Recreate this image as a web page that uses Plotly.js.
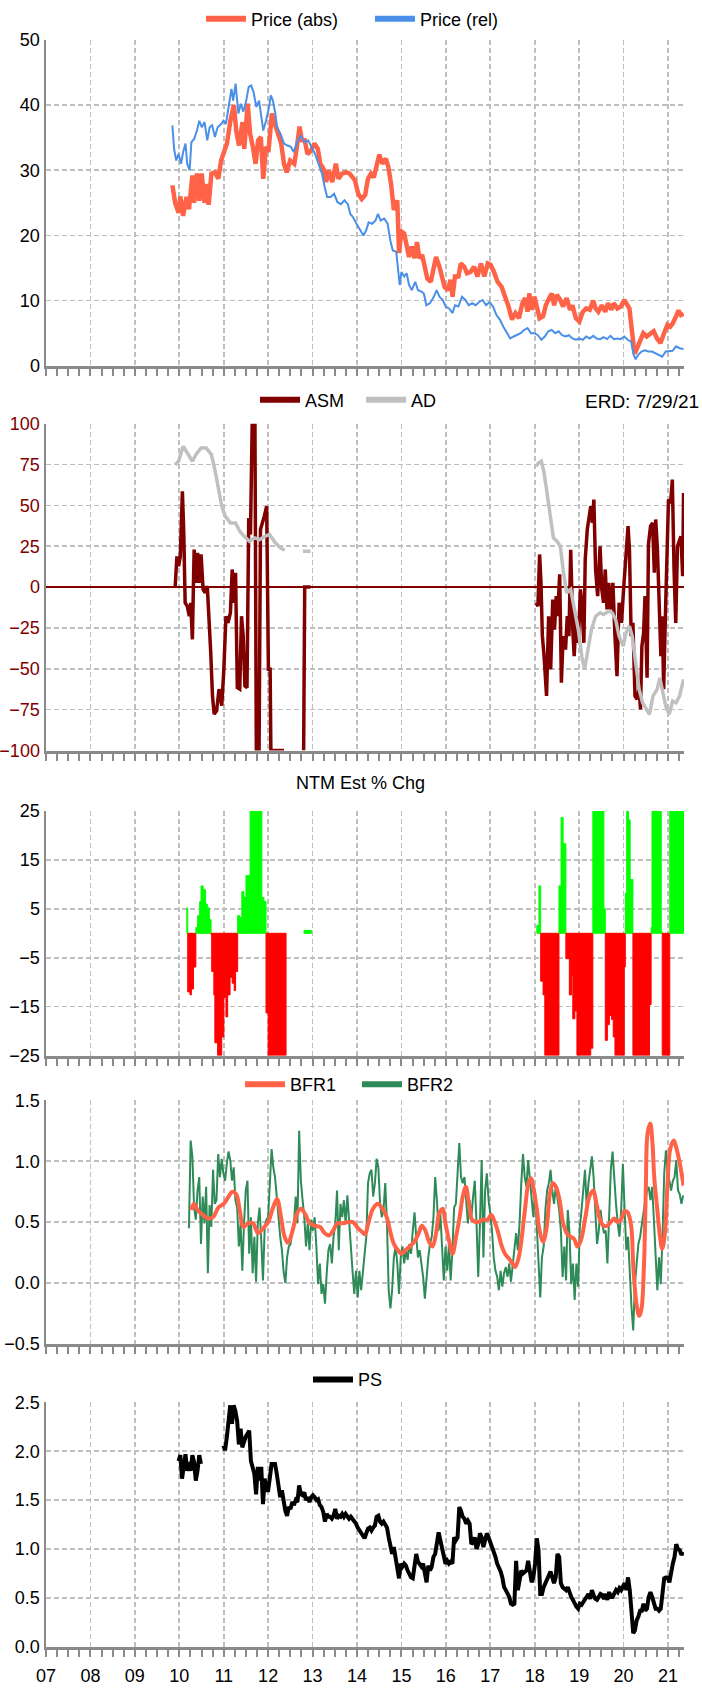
<!DOCTYPE html>
<html><head><meta charset="utf-8">
<script src="https://cdn.plot.ly/plotly-3.0.1.min.js"></script>
<style>html,body{margin:0;padding:0;background:#fff}</style>
</head><body><div id="chart" style="width:702px;height:1691px"></div>
<script>
// ---------- axis / tick labels ----------
const yearTicks = [2007,2008,2009,2010,2011,2012,2013,2014,2015,2016,2017,2018,2019,2020,2021];
const yearLabels = ['07','08','09','10','11','12','13','14','15','16','17','18','19','20','21'];

// ---------- Panel 1: price (times in decimal years) ----------
const priceAbsT = [2009.845,2009.907,2009.984,2010.023,2010.086,2010.163,2010.218,2010.295,2010.334,2010.397,2010.451,2010.505,2010.568,2010.630,2010.661,2010.723,2010.801,2010.879,2010.941,2010.995,2011.073,2011.151,2011.229,2011.283,2011.345,2011.423,2011.462,2011.540,2011.594,2011.656,2011.718,2011.773,2011.835,2011.890,2011.952,2012.006,2012.084,2012.162,2012.240,2012.294,2012.356,2012.418,2012.496,2012.589,2012.652,2012.706,2012.761,2012.823,2012.885,2012.963,2013.040,2013.118,2013.173,2013.250,2013.305,2013.367,2013.445,2013.523,2013.585,2013.663,2013.756,2013.834,2013.950,2014.028,2014.106,2014.184,2014.246,2014.316,2014.378,2014.440,2014.502,2014.572,2014.650,2014.705,2014.767,2014.829,2014.907,2014.946,2015.000,2015.062,2015.117,2015.171,2015.233,2015.296,2015.350,2015.404,2015.467,2015.529,2015.583,2015.661,2015.715,2015.778,2015.855,2015.918,2015.972,2016.050,2016.104,2016.151,2016.205,2016.283,2016.337,2016.415,2016.477,2016.555,2016.633,2016.711,2016.789,2016.866,2016.944,2017.006,2017.084,2017.162,2017.255,2017.333,2017.411,2017.488,2017.566,2017.644,2017.722,2017.784,2017.838,2017.877,2017.939,2017.994,2018.056,2018.110,2018.188,2018.250,2018.328,2018.383,2018.437,2018.499,2018.577,2018.639,2018.717,2018.795,2018.849,2018.927,2019.005,2019.083,2019.160,2019.238,2019.316,2019.370,2019.432,2019.510,2019.588,2019.650,2019.728,2019.782,2019.860,2019.938,2020.016,2020.070,2020.132,2020.194,2020.249,2020.303,2020.365,2020.443,2020.521,2020.599,2020.677,2020.754,2020.832,2020.910,2020.988,2021.050,2021.104,2021.182,2021.237,2021.291,2021.35];
const priceAbs = [27.7,25.0,23.5,26,23,25.9,24,29.2,25,29.5,25.3,29.5,25,27.9,24.7,29.5,29.7,28.7,31.5,32.8,34.1,37.6,40,36,33.8,37.4,33.3,40.2,35.6,33.6,31,34.6,35.1,28.7,33.6,32.8,38.7,36.9,35.1,34.1,31,29.7,31.5,31,33.8,36.7,34.6,34.6,32.5,33,34.1,33.3,31,30.2,28.2,30,28.2,31,28.7,29.5,29.7,29.5,28.5,26.4,25.6,26.2,28.7,29.5,28.9,30.5,32.4,31,31.8,30.5,27.9,23.9,25.4,17.3,20.6,20.3,18.8,16.7,18.3,16.5,19,16.5,17,14.7,13.4,12.9,14.7,16.7,15.2,13.7,12.1,11.6,13.2,10.6,13.7,13.7,15.7,15.2,14.2,14.4,15.2,13.7,15.7,13.7,15.7,15.5,14.4,12.9,12.1,10.6,9.1,7.1,8.1,7.3,9.6,10.4,8.3,11.1,8.6,10.6,8.8,7.3,7.6,9.3,10.4,11.1,9.3,10.9,10.1,9.1,10.4,8.6,9.3,7.3,6.8,8.3,8.8,8.6,10,8.8,8.3,9.3,8.3,9.6,8.6,9.6,8.8,9.1,10.1,9.6,8.8,5,1.9,2.7,3.7,5,4.5,5,5.3,4.2,3.5,5,6.3,6,6.5,7.6,8.5,7.8,8];
const priceRelT = [2009.845,2009.883,2009.930,2009.984,2010.039,2010.086,2010.140,2010.179,2010.233,2010.272,2010.334,2010.397,2010.451,2010.505,2010.568,2010.630,2010.684,2010.739,2010.801,2010.863,2010.941,2010.995,2011.050,2011.112,2011.174,2011.213,2011.267,2011.330,2011.384,2011.439,2011.501,2011.563,2011.617,2011.672,2011.734,2011.796,2011.851,2011.890,2011.952,2012.006,2012.061,2012.107,2012.162,2012.201,2012.278,2012.356,2012.434,2012.512,2012.574,2012.652,2012.729,2012.823,2012.900,2012.978,2013.056,2013.134,2013.212,2013.274,2013.328,2013.406,2013.484,2013.561,2013.639,2013.717,2013.795,2013.849,2013.911,2013.989,2014.067,2014.145,2014.207,2014.261,2014.339,2014.417,2014.471,2014.533,2014.611,2014.689,2014.751,2014.806,2014.883,2014.922,2014.961,2015.000,2015.062,2015.117,2015.171,2015.233,2015.311,2015.373,2015.451,2015.505,2015.560,2015.638,2015.715,2015.793,2015.855,2015.933,2015.995,2016.073,2016.151,2016.205,2016.283,2016.361,2016.439,2016.516,2016.594,2016.672,2016.750,2016.827,2016.905,2016.983,2017.061,2017.138,2017.216,2017.294,2017.372,2017.449,2017.527,2017.605,2017.683,2017.760,2017.838,2017.916,2017.994,2018.072,2018.149,2018.227,2018.305,2018.383,2018.460,2018.538,2018.616,2018.694,2018.771,2018.849,2018.927,2019.005,2019.083,2019.160,2019.238,2019.316,2019.394,2019.471,2019.549,2019.627,2019.705,2019.782,2019.860,2019.938,2020.016,2020.093,2020.171,2020.226,2020.272,2020.327,2020.404,2020.482,2020.560,2020.638,2020.715,2020.793,2020.871,2020.949,2021.027,2021.104,2021.182,2021.260,2021.35];
const priceRel = [36.9,33.3,31.5,32.5,31,32.8,34.1,31,30,34.3,34.8,36.1,37.6,36.6,37.4,34.6,36.6,36.9,35.1,36.6,37.1,37.6,37.1,39.7,42.5,40.7,43.3,38.7,40.2,39,40.5,42.8,43.0,42,39.7,40.7,37.9,36.1,37.6,39.2,41.5,40.7,38.7,36.6,35.6,34.1,33.8,33.6,32.8,34.3,35.3,34.3,34.6,33.6,32.5,31,29.5,27.4,25.9,25.9,26.4,25.1,24.8,25.4,24.8,23.3,22.8,21.8,20.8,20,20.8,22,21.8,22.3,23.3,22.3,22.6,21.8,19.2,17.7,17.5,14.7,12.4,14.4,13.7,14.2,12.4,11.6,12.9,11.6,11.4,11.1,9.3,9.6,10.4,11.6,10.6,10.1,9.1,8.8,8.1,9.3,9.1,10.6,10.1,9.3,9.6,9.3,9.8,10.1,9.3,9.8,9.1,7.8,7.1,6.0,5,4.2,4.5,4.7,5,5.5,5.8,5,5,4.7,4.0,4.5,5.3,5.5,5,5.3,4.7,4.5,4.7,4.2,4.0,4.2,4.0,4.5,4.2,4.6,4.2,4.1,4.4,4.1,4.6,4.1,4.2,4.1,4.5,4.0,3.7,1.7,1.0,1.7,2.2,2.4,2.2,2.2,1.9,1.7,1.4,2.2,2.3,2.3,3,2.7,2.6];

// ---------- Panel 2: ASM / AD ----------
const asmT = [2009.907,2009.946,2009.984,2010.023,2010.070,2010.101,2010.132,2010.179,2010.226,2010.257,2010.295,2010.334,2010.381,2010.412,2010.458,2010.490,2010.536,2010.583,2010.630,2010.669,2010.708,2010.747,2010.785,2010.840,2010.894,2010.956,2011.003,2011.050,2011.096,2011.151,2011.190,2011.229,2011.267,2011.306,2011.361,2011.400,2011.439,2011.477,2011.524,2011.563,2011.602,2011.641,2011.703,2011.734,2011.796,2011.827,2011.874,2011.913,2011.967,2012.006,2012.045,2012.061,2012.356,2012.58,2012.799,2012.823,2012.955,
  2015.5,
  2018.033,2018.072,2018.110,2018.141,2018.172,2018.211,2018.266,2018.313,2018.359,2018.406,2018.445,2018.484,2018.515,2018.562,2018.600,2018.639,2018.694,2018.733,2018.771,2018.810,2018.857,2018.888,2018.934,2018.981,2019.028,2019.059,2019.106,2019.137,2019.183,2019.214,2019.261,2019.300,2019.331,2019.370,2019.417,2019.471,2019.510,2019.549,2019.588,2019.627,2019.666,2019.705,2019.759,2019.806,2019.852,2019.899,2019.953,2020.000,2020.054,2020.101,2020.132,2020.171,2020.210,2020.257,2020.303,2020.350,2020.381,2020.412,2020.451,2020.482,2020.529,2020.560,2020.607,2020.653,2020.692,2020.723,2020.762,2020.801,2020.840,2020.871,2020.902,2020.941,2020.980,2021.011,2021.058,2021.097,2021.136,2021.174,2021.213,2021.252,2021.291,2021.330,2021.35];
const asm = [0,18.9,12.8,18.9,58.6,33.2,-9.6,-11.6,-17.8,-9.6,-32,23,2.6,21,2.6,20,-1.4,-3.5,0.6,-15.7,-40.1,-66.5,-77.7,-75.7,-62.4,-72.6,-50.3,-17.8,-21.9,-15.7,10.8,-9.6,8.8,-61.5,-62.4,-17.8,-30,-60.4,-61.5,42.3,32.2,100,100,-100,-100,35.2,39.3,43.4,49.5,-50.3,-50.3,-100,-100,null,-100,0,0,
  null,
  -9.6,-11.6,20,2.6,-30,-42.3,-66.6,-17.8,-50.3,-7.6,-26,-5.5,-17.8,7.8,-58.5,-30,-38.2,-17.8,-30,22.9,-26,-42.3,-17.8,-34.1,-1.4,-9.6,-34.1,16.9,35.3,40.3,49.5,39.3,53.6,10.8,-5.5,25,-1.4,-9.6,10.8,-13.7,2.6,-13.7,2.6,-30,-54.5,-9.6,-21.9,-1.4,23,37.3,23,-30,-21.9,-66.6,-68.6,-62.4,-74.8,-36.1,-28,-5.5,-55.5,26.1,37.3,39.3,8.8,41.4,23,-9.6,-42.3,-17.8,-62.4,-17.8,18.9,53.6,51.5,65.8,10.8,-21.9,25,29.1,31.1,6.7,57.6];
const adT = [2009.907,2009.984,2010.086,2010.179,2010.295,2010.373,2010.490,2010.607,2010.723,2010.801,2010.879,2010.956,2011.034,2011.151,2011.267,2011.361,2011.462,2011.579,2011.695,2011.812,2011.928,2012.030,2012.162,2012.278,2012.372,2012.58,2012.784,2012.955,
  2015.5,
  2018.033,2018.087,2018.149,2018.204,2018.266,2018.344,2018.421,2018.499,2018.577,2018.639,2018.717,2018.810,2018.888,2018.981,2019.059,2019.121,2019.199,2019.277,2019.370,2019.471,2019.549,2019.666,2019.744,2019.821,2019.899,2019.992,2020.054,2020.132,2020.194,2020.272,2020.350,2020.428,2020.505,2020.583,2020.661,2020.754,2020.816,2020.894,2020.949,2021.027,2021.104,2021.182,2021.260,2021.35];
const ad = [74.9,77,86.2,82.1,77,81.1,85.2,85.2,81.1,71.9,61.7,49.5,43.4,39.3,39.3,34.2,31.1,28.1,30.1,29.1,31.1,32.2,27.1,24,22.6,null,22,22,
  null,
  73.9,76,77,70.9,59.7,43.4,30.1,28.1,25,10.8,-3.5,-1.4,-13.7,-26,-42.3,-50.4,-38.2,-26,-17.8,-15.7,-16.8,-14.7,-15.7,-19.8,-30,-36.1,-28,-23.9,-30,-48.3,-62.6,-70.8,-74.8,-77.9,-66.7,-62.6,-55.5,-64.7,-72.9,-77.9,-69.7,-70.8,-66.7,-56.5];

// ---------- Panel 3: NTM Est % Chg (each value holds until the next date; null ends a run) ----------
const ntmT = [2010.17,2010.19,2010.241,2010.272,2010.319,2010.373,2010.412,2010.459,2010.490,2010.537,2010.591,2010.630,2010.677,2010.715,2010.730,2010.778,2010.801,2010.863,2010.956,2011.003,2011.050,2011.089,2011.143,2011.190,2011.236,2011.267,2011.314,2011.361,2011.407,2011.454,2011.501,2011.594,2011.858,2011.905,2011.952,2012.000,2012.403,2012.807,2012.978,
  2018.048,2018.095,2018.134,2018.188,2018.227,2018.546,2018.593,2018.639,2018.701,2018.779,2018.826,2018.857,2018.904,2018.950,2019.261,2019.308,2019.557,2019.588,2019.635,2019.681,2019.728,2019.767,2019.806,2020.016,2020.039,2020.070,2020.109,2020.148,2020.210,2020.583,2020.620,2020.640,2020.848,2020.870,2021.040,2021.36];
const ntm = [5.2,-12,-12.6,-11.4,-6.9,1.2,3.6,6.5,9.7,8.9,6,5.2,2.8,-0.3,-7.8,-12.6,-22.4,-25,-21.2,-13.1,-17.1,-12.6,-9,-10.2,-11.7,-7.8,3.6,3.2,8.5,7.3,11.8,25,7.3,6.5,-16.3,-25,null,0.6,null,
  1.6,9.7,-9.8,-12.6,-25,9.7,23.7,18.3,-5.2,-12.6,-8.6,-17.5,-15.9,-25,-23.5,25,5,-21.9,-18.7,-16.8,-17.6,-21.2,-25,-6.9,8.2,25,23.2,11,-25,-14.6,1.2,25,0.3,-25,25,null];

// ---------- Panel 4: BFR1 / BFR2 ----------
const bfr1T = [2010.27,2010.33,2010.41,2010.53,2010.65,2010.76,2010.88,2011.0,2011.11,2011.19,2011.28,2011.36,2011.44,2011.54,2011.66,2011.77,2011.89,2012.0,2012.11,2012.20,2012.29,2012.37,2012.45,2012.55,2012.65,2012.74,2012.84,2012.94,2013.06,2013.17,2013.27,2013.37,2013.46,2013.56,2013.68,2013.79,2013.91,2014.0,2014.11,2014.18,2014.26,2014.36,2014.47,2014.57,2014.67,2014.75,2014.83,2014.92,2015.0,2015.09,2015.19,2015.29,2015.39,2015.46,2015.54,2015.62,2015.70,2015.78,2015.85,2015.93,2015.99,2016.07,2016.15,2016.23,2016.31,2016.38,2016.45,2016.52,2016.59,2016.71,2016.83,2016.94,2017.02,2017.10,2017.18,2017.25,2017.33,2017.42,2017.50,2017.56,2017.64,2017.70,2017.78,2017.86,2017.92,2017.98,2018.05,2018.11,2018.19,2018.27,2018.34,2018.41,2018.48,2018.56,2018.64,2018.72,2018.81,2018.89,2018.96,2019.04,2019.14,2019.23,2019.32,2019.39,2019.47,2019.55,2019.63,2019.71,2019.79,2019.86,2019.94,2020.02,2020.09,2020.17,2020.22,2020.29,2020.35,2020.40,2020.46,2020.50,2020.54,2020.60,2020.65,2020.69,2020.76,2020.82,2020.87,2020.93,2020.99,2021.05,2021.13,2021.18,2021.25,2021.32,2021.35];
const bfr1 = [0.60,0.65,0.60,0.56,0.53,0.54,0.62,0.65,0.71,0.75,0.73,0.60,0.46,0.49,0.49,0.41,0.45,0.50,0.62,0.69,0.54,0.38,0.33,0.43,0.57,0.61,0.56,0.49,0.47,0.46,0.41,0.39,0.43,0.49,0.49,0.50,0.50,0.46,0.42,0.40,0.50,0.61,0.65,0.61,0.54,0.42,0.32,0.27,0.24,0.27,0.30,0.34,0.41,0.47,0.43,0.34,0.30,0.41,0.57,0.61,0.49,0.35,0.24,0.38,0.54,0.71,0.79,0.65,0.52,0.50,0.52,0.52,0.56,0.50,0.41,0.31,0.24,0.20,0.16,0.13,0.21,0.35,0.60,0.82,0.86,0.76,0.60,0.43,0.34,0.46,0.73,0.82,0.79,0.68,0.49,0.41,0.38,0.36,0.30,0.35,0.54,0.71,0.76,0.65,0.52,0.47,0.47,0.50,0.53,0.50,0.52,0.59,0.58,0.47,0.13,-0.17,-0.27,-0.22,0.16,0.76,1.23,1.31,1.15,0.87,0.60,0.38,0.28,0.41,0.82,1.10,1.17,1.12,1.01,0.87,0.80];
// BFR2 sampled every ~2 weeks starting at bfr2Start (decimal year)
const bfr2Start = 2010.217, bfr2Step = 0.03876;
const bfr2 = [0.45,1.17,1.04,0.62,0.52,0.76,0.87,0.32,0.71,0.49,0.79,0.08,0.64,0.46,0.93,0.65,0.68,1.06,0.87,1.02,
  0.90,0.84,0.98,1.08,1.01,0.84,0.95,0.68,0.62,0.30,0.49,0.10,0.49,0.76,0.84,0.24,0.54,0.08,0.38,0.01,
  0.49,0.62,0.35,0.02,0.46,0.52,0.54,0.79,1.10,0.95,0.87,0.71,0.52,0.38,0.27,0.09,0.0,0.21,0.30,0.32,
  0.43,0.49,0.71,0.49,1.25,0.84,0.68,0.54,0.30,0.49,0.27,0.52,0.43,0.54,0.30,-0.01,0.16,-0.09,-0.01,-0.17,
  0.08,0.27,0.32,0.16,0.38,0.49,0.76,0.27,0.65,0.54,0.68,0.49,0.72,0.49,0.32,0.10,-0.09,0.10,-0.12,0.10,
  -0.06,0.10,0.27,0.38,0.82,0.90,0.93,0.71,0.82,1.02,0.95,0.65,0.54,0.60,0.82,0.49,-0.06,-0.21,-0.06,0.21,
  0.30,0.16,-0.09,0.21,0.30,0.16,0.27,0.19,0.32,0.24,0.43,0.58,0.38,0.21,0.27,0.16,0.05,-0.13,0.05,0.21,
  0.32,0.38,0.54,0.87,0.68,0.43,0.57,0.27,0.02,0.30,0.10,0.32,0.02,0.27,0.62,0.65,0.90,1.15,0.87,0.82,
  0.87,0.65,0.49,0.68,0.54,0.71,0.84,0.49,0.05,0.49,1.01,0.21,0.76,0.90,0.68,0.57,0.43,0.21,0.10,0.05,
  -0.06,0.10,-0.03,0.08,0.13,0.05,0.16,0.01,0.13,0.30,0.41,0.27,0.49,0.82,1.06,0.87,0.79,1.01,0.87,0.68,
  0.54,0.76,0.43,0.16,-0.12,0.21,0.30,0.60,0.76,0.82,0.93,0.76,0.65,0.79,0.68,0.60,0.43,0.05,0.30,0.02,
  0.60,0.41,-0.01,0.16,-0.14,0.16,-0.03,0.46,0.60,0.76,0.93,0.62,0.82,0.93,1.04,0.87,0.54,0.32,0.43,0.60,
  0.49,0.41,0.43,0.16,0.54,0.93,1.08,0.84,0.65,0.49,0.38,0.60,0.98,0.60,0.27,0.38,0.05,-0.20,-0.39,-0.01,
  0.16,0.32,0.38,0.49,0.60,0.68,0.76,0.79,0.68,0.79,0.52,0.27,-0.06,0.21,-0.01,0.38,0.90,1.09,0.90,0.84,
  0.76,0.84,0.87,1.01,0.76,0.73,0.65,0.72];

// ---------- Panel 5: PS (two runs, sampled every ~2 weeks) ----------
const psStep = 0.03876;
const ps1Start = 2009.984;
const ps1 = [1.90,1.96,1.72,1.85,1.97,1.80,1.89,1.80,1.96,1.89,1.70,1.80,1.96,1.87];
const ps2Start = 2010.992;
const ps2 = [2.06,2.01,2.14,2.33,2.47,2.28,2.47,2.41,2.31,2.07,2.23,2.04,2.11,2.15,2.18,2.21,1.90,1.82,1.77,1.56,
  1.84,1.70,1.84,1.46,1.72,1.60,1.60,1.73,1.87,1.87,1.87,1.77,1.63,1.53,1.60,1.46,1.39,1.34,1.43,1.41,
  1.48,1.45,1.50,1.48,1.65,1.56,1.55,1.58,1.50,1.53,1.48,1.53,1.55,1.53,1.50,1.51,1.45,1.43,1.38,1.28,
  1.36,1.33,1.33,1.31,1.34,1.41,1.31,1.34,1.33,1.36,1.33,1.36,1.34,1.31,1.33,1.31,1.28,1.26,1.22,1.19,
  1.16,1.12,1.11,1.16,1.21,1.22,1.19,1.22,1.24,1.33,1.34,1.28,1.26,1.28,1.24,1.22,1.12,1.02,0.95,1.02,
  0.92,0.82,0.70,0.85,0.82,0.85,0.83,0.78,0.73,0.71,0.70,0.82,0.95,0.87,0.85,0.82,0.85,0.75,0.66,0.83,
  0.78,0.82,0.92,0.95,1.05,1.17,1.09,1.02,0.94,0.85,0.88,0.85,0.87,0.85,1.12,1.09,1.12,1.43,1.39,1.33,
  1.31,1.26,1.29,1.26,1.05,1.07,1.12,1.00,1.05,1.16,1.12,1.02,1.09,1.16,1.12,1.07,1.02,0.99,0.92,0.85,
  0.82,0.77,0.71,0.61,0.58,0.54,0.51,0.44,0.43,0.44,0.88,0.58,0.68,0.78,0.75,0.77,0.78,0.88,0.78,0.66,
  0.71,0.85,1.11,0.99,0.54,0.54,0.61,0.65,0.71,0.75,0.77,0.71,0.65,0.71,0.95,0.92,0.65,0.61,0.60,0.58,
  0.61,0.54,0.51,0.48,0.44,0.41,0.39,0.44,0.43,0.46,0.49,0.51,0.54,0.49,0.58,0.53,0.49,0.48,0.51,0.54,
  0.53,0.49,0.54,0.48,0.56,0.51,0.51,0.54,0.58,0.56,0.60,0.58,0.61,0.65,0.58,0.71,0.58,0.31,0.14,0.17,
  0.27,0.31,0.37,0.37,0.44,0.37,0.39,0.51,0.56,0.51,0.44,0.39,0.39,0.37,0.39,0.58,0.70,0.71,0.71,0.66,
  0.78,0.85,0.92,1.05,1.00,0.99,0.94,0.97];

// ---------- helpers ----------
function sampleTimes(start, step, n) {
  const out = [];
  for (let i = 0; i < n; i++) out.push(+(start + i * step).toFixed(4));
  return out;
}
// NTM: one bar per constant run, spanning from its date to the next date
const ntmBar = { x: [], y: [], w: [], c: [] };
for (let i = 0; i < ntm.length; i++) {
  const v = ntm[i];
  if (v === null || i + 1 >= ntmT.length) continue;
  const w = ntmT[i + 1] - ntmT[i];
  ntmBar.x.push(ntmT[i] + w / 2);
  ntmBar.w.push(w);
  ntmBar.y.push(v);
  ntmBar.c.push(v >= 0 ? '#00ff00' : '#ff0000');
}

const psT = sampleTimes(ps1Start, psStep, ps1.length).concat([2010.7], sampleTimes(ps2Start, psStep, ps2.length));
const psV = ps1.concat([null], ps2);
const bfr2T = sampleTimes(bfr2Start, bfr2Step, bfr2.length);

// ---------- styling ----------
const H = 1691;
const FONT = 'Liberation Sans, Arial, sans-serif';
const GRID = '#bfbfbf', AXIS = '#8a8a8a';
const xRange = [2007, 2021.36];
const C = { abs: '#ff6347', rel: '#4a8fe8', asm: '#800000', ad: '#c0c0c0', bfr1: '#ff6347', bfr2: '#2e8b57', ps: '#000000' };

function xAxis(anchor, labels) {
  return {
    anchor, domain: [0, 1], range: xRange, type: 'linear',
    tickmode: 'array', tickvals: yearTicks, ticktext: yearLabels, showticklabels: labels,
    ticks: 'outside', ticklen: 7, tickwidth: 2, tickcolor: AXIS, ticklabelstandoff: 4,
    minor: { tickmode: 'linear', tick0: 2007, dtick: 0.25, ticks: 'outside', ticklen: 7, tickwidth: 2, tickcolor: AXIS, showgrid: false },
    showline: true, linecolor: AXIS, linewidth: 3,
    showgrid: true, gridcolor: GRID, gridwidth: 1.6, griddash: '5px,3px',
    zeroline: false, fixedrange: true,
    tickfont: { family: FONT, size: 18, color: '#000' }
  };
}
function yAxis(anchor, top, bottom, range, tickvals, fmt, color) {
  return {
    anchor, domain: [1 - bottom / H, 1 - top / H], range, type: 'linear',
    tickmode: 'array', tickvals, tickformat: fmt, ticks: '',
    showline: true, linecolor: AXIS, linewidth: 2.5,
    showgrid: true, gridcolor: GRID, gridwidth: 1.6, griddash: '5px,3px',
    zeroline: false, fixedrange: true,
    tickfont: { family: FONT, size: 18, color: color || '#000' }
  };
}
function legendAt(xpx, ypx, entry) {
  return {
    orientation: 'h', x: (xpx - 46) / 638, y: 1 - ypx / H, xanchor: 'left', yanchor: 'middle',
    bgcolor: 'rgba(0,0,0,0)', borderwidth: 0, font: { family: FONT, size: 18, color: '#000' },
    itemwidth: 40, entrywidthmode: 'pixels', entrywidth: entry || 0,
    itemclick: false, itemdoubleclick: false
  };
}
// legend keys (no data of their own; they only carry the swatch style)
function key(name, color, legend) {
  return { x: [null], y: [null], xaxis: 'x', yaxis: 'y', name, legend, mode: 'lines', line: { color, width: 6 }, showlegend: true };
}

const traces = [
  { x: priceAbsT, y: priceAbs, xaxis: 'x', yaxis: 'y', showlegend: false, mode: 'lines', line: { color: C.abs, width: 4.5 } },
  { x: priceRelT, y: priceRel, xaxis: 'x', yaxis: 'y', showlegend: false, mode: 'lines', line: { color: C.rel, width: 2 } },

  { x: asmT, y: asm, xaxis: 'x2', yaxis: 'y2', showlegend: false, mode: 'lines', line: { color: C.asm, width: 3.5 } },
  { x: adT, y: ad, xaxis: 'x2', yaxis: 'y2', showlegend: false, mode: 'lines', line: { color: C.ad, width: 3.5 } },

  { type: 'bar', x: ntmBar.x, y: ntmBar.y, width: ntmBar.w, xaxis: 'x3', yaxis: 'y3', showlegend: false,
    marker: { color: ntmBar.c, line: { color: ntmBar.c, width: 1 } } },

  { x: bfr2T, y: bfr2, xaxis: 'x4', yaxis: 'y4', showlegend: false, mode: 'lines', line: { color: C.bfr2, width: 2 } },
  { x: bfr1T, y: bfr1, xaxis: 'x4', yaxis: 'y4', showlegend: false, mode: 'lines', line: { color: C.bfr1, width: 4, shape: 'spline', smoothing: 1 } },

  { x: psT, y: psV, xaxis: 'x5', yaxis: 'y5', showlegend: false, mode: 'lines', line: { color: C.ps, width: 4 } },

  key('Price (abs)', C.abs, 'legend'), key('Price (rel)', C.rel, 'legend'),
  key('ASM', C.asm, 'legend2'), key('AD', C.ad, 'legend2'),
  key('BFR1', C.bfr1, 'legend3'), key('BFR2', C.bfr2, 'legend3'),
  key('PS', C.ps, 'legend4')
];

const layout = {
  width: 702, height: H,
  margin: { l: 46, r: 18, t: 0, b: 0, pad: 0 },
  paper_bgcolor: '#fff', plot_bgcolor: '#fff',
  font: { family: FONT, size: 18, color: '#000' },
  showlegend: true, hovermode: false, barmode: 'overlay',
  xaxis: xAxis('y', false), xaxis2: xAxis('y2', false), xaxis3: xAxis('y3', false), xaxis4: xAxis('y4', false), xaxis5: xAxis('y5', true),
  yaxis: yAxis('x', 36, 362.7, [0, 50], [0, 10, 20, 30, 40, 50], 'd'),
  yaxis2: Object.assign(yAxis('x2', 420.7, 748.3, [-100, 100], [-100, -75, -50, -25, 0, 25, 50, 75, 100], 'd', '#800000'),
    { zeroline: true, zerolinecolor: '#800000', zerolinewidth: 1.5 }),
  yaxis3: yAxis('x3', 809, 1054, [-25, 25], [-25, -15, -5, 5, 15, 25], 'd'),
  yaxis4: yAxis('x4', 1099, 1343, [-0.5, 1.5], [-0.5, 0, 0.5, 1, 1.5], '.1f'),
  yaxis5: yAxis('x5', 1401.7, 1646.7, [0, 2.5], [0, 0.5, 1, 1.5, 2, 2.5], '.1f'),
  legend: legendAt(201, 15, 114),
  legend2: legendAt(255, 397, 51),
  legend3: legendAt(240, 1083, 62),
  legend4: legendAt(308, 1379, 0),
  annotations: [
    { text: 'ERD: 7/29/21', xref: 'paper', yref: 'paper', x: (701 - 46) / 638, y: 1 - 398 / H, xanchor: 'right', yanchor: 'middle', showarrow: false, font: { family: FONT, size: 19, color: '#000' } },
    { text: 'NTM Est % Chg', xref: 'paper', yref: 'paper', x: (360 - 46) / 638, y: 1 - 781 / H, xanchor: 'center', yanchor: 'middle', showarrow: false, font: { family: FONT, size: 18, color: '#000' } }
  ]
};

Plotly.newPlot('chart', traces, layout, { staticPlot: true, displayModeBar: false });
</script>
</body></html>
